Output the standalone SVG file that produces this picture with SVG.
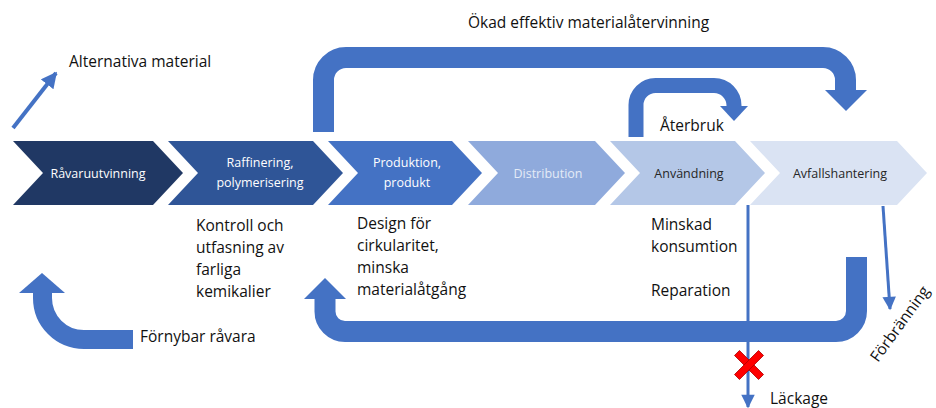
<svg xmlns="http://www.w3.org/2000/svg" width="936" height="408" viewBox="0 0 936 408">
<defs>
<style>
.lbl{font-family:"Open Sans","Liberation Sans",sans-serif;font-size:15.5px;fill:#111}
.ct{font-family:"Open Sans","Liberation Sans",sans-serif;font-size:12.5px;text-anchor:middle}
.big{fill:none;stroke:#4472C4;stroke-linecap:butt;stroke-linejoin:round}
.head{fill:#4472C4}
.thin{stroke:#4472C4;fill:none}
</style>
<marker id="ah" viewBox="0 0 10 10" refX="9" refY="5" markerWidth="4" markerHeight="4" orient="auto" markerUnits="strokeWidth">
<path d="M0,0 L10,5 L0,10 Z" fill="#4472C4"/>
</marker>
<marker id="ah2" viewBox="0 0 10 10" refX="9" refY="5" markerWidth="5" markerHeight="4.5" orient="auto" markerUnits="strokeWidth">
<path d="M0,0 L10,5 L0,10 Z" fill="#4472C4"/>
</marker>
</defs>
<rect width="936" height="408" fill="#fff"/>

<g id="chevrons">
<g id="n-ravaru"><polygon points="13,141 153,141 183,173 153,205 13,205 43,173" fill="#203864"/><text class="ct" x="98" y="177.5" fill="#fff">Råvaruutvinning</text></g>
<g id="n-raff"><polygon points="168,141 313,141 343,173 313,205 168,205 198,173" fill="#2F5597"/><text class="ct" x="260" y="167" fill="#fff">Raffinering,</text><text class="ct" x="260" y="187" fill="#fff">polymerisering</text></g>
<g id="n-prod"><polygon points="328,141 452,141 482,173 452,205 328,205 358,173" fill="#4472C4"/><text class="ct" x="407" y="167" fill="#fff">Produktion,</text><text class="ct" x="407" y="187" fill="#fff">produkt</text></g>
<g id="n-dist"><polygon points="468,141 595,141 625,173 595,205 468,205 498,173" fill="#8FAADC"/><text class="ct" x="548" y="177.5" fill="#E4EBF7">Distribution</text></g>
<g id="n-anv"><polygon points="610,141 735,141 765,173 735,205 610,205 640,173" fill="#B4C7E7"/><text class="ct" x="689" y="177.5" fill="#262626">Användning</text></g>
<g id="n-avf"><polygon points="750,141 897,141 927,173 897,205 750,205 780,173" fill="#DAE3F3"/><text class="ct" x="840" y="177.5" fill="#262626">Avfallshantering</text></g>
</g>

<g id="connectors">
<g id="c-atervinning">
<path class="big" stroke-width="21" d="M323.5,132 V80 A22.5,22.5 0 0 1 346,57.5 H823 A22.5,22.5 0 0 1 845.5,80 V91"/>
<polygon class="head" points="825,90 867,90 846,111"/>
</g>
<g id="c-aterbruk">
<path class="big" stroke-width="15" d="M636,137 V105 A19.5,19.5 0 0 1 655.5,85.5 H714 A20,20 0 0 1 734,105.5 V107"/>
<polygon class="head" points="720,106 748,106 734,121"/>
</g>
<g id="c-retur">
<path class="big" stroke-width="21" d="M856.5,257 V311 A20.5,20.5 0 0 1 836,331.5 H345 A20,20 0 0 1 325,311.5 V299"/>
<polygon class="head" points="304,299 346,299 325,278"/>
</g>
<g id="c-fornybar">
<path class="big" stroke-width="19" d="M133,339.5 H84 A41.5,41.5 0 0 1 42.5,298 V293"/>
<polygon class="head" points="19,293 65,293 42,273"/>
</g>
<g id="c-alternativ">
<line class="thin" x1="13" y1="128" x2="56" y2="73" stroke-width="4" marker-end="url(#ah)"/>
</g>
<g id="c-lackage">
<line class="thin" x1="748" y1="205" x2="748" y2="407" stroke-width="3" marker-end="url(#ah2)"/>
<g id="x-mark" fill="#FF0000" stroke="#B00000" stroke-width="0.8">
<rect x="732" y="361.5" width="34" height="7" transform="rotate(45 749 365)"/>
<rect x="732" y="361.5" width="34" height="7" transform="rotate(-45 749 365)"/>
</g>
</g>
<g id="c-forbranning">
<line class="thin" x1="883" y1="206" x2="890" y2="309" stroke-width="3" marker-end="url(#ah2)"/>
</g>
</g>

<g id="labels">
<text class="lbl" x="468" y="28">Ökad effektiv materialåtervinning</text>
<text class="lbl" x="69" y="67">Alternativa material</text>
<text class="lbl" x="660" y="131">Återbruk</text>
<text class="lbl" x="196" y="231">Kontroll och</text>
<text class="lbl" x="196" y="253">utfasning av</text>
<text class="lbl" x="196" y="275">farliga</text>
<text class="lbl" x="196" y="297">kemikalier</text>
<text class="lbl" x="357" y="229">Design för</text>
<text class="lbl" x="357" y="251">cirkularitet,</text>
<text class="lbl" x="357" y="273">minska</text>
<text class="lbl" x="357" y="295">materialåtgång</text>
<text class="lbl" x="651" y="230">Minskad</text>
<text class="lbl" x="651" y="252">konsumtion</text>
<text class="lbl" x="651" y="296">Reparation</text>
<text class="lbl" x="140" y="342">Förnybar råvara</text>
<text class="lbl" x="770" y="404">Läckage</text>
<text class="lbl" x="878" y="363" font-size="14.5" transform="rotate(-54 878 363)">Förbränning</text>
</g>
</svg>
